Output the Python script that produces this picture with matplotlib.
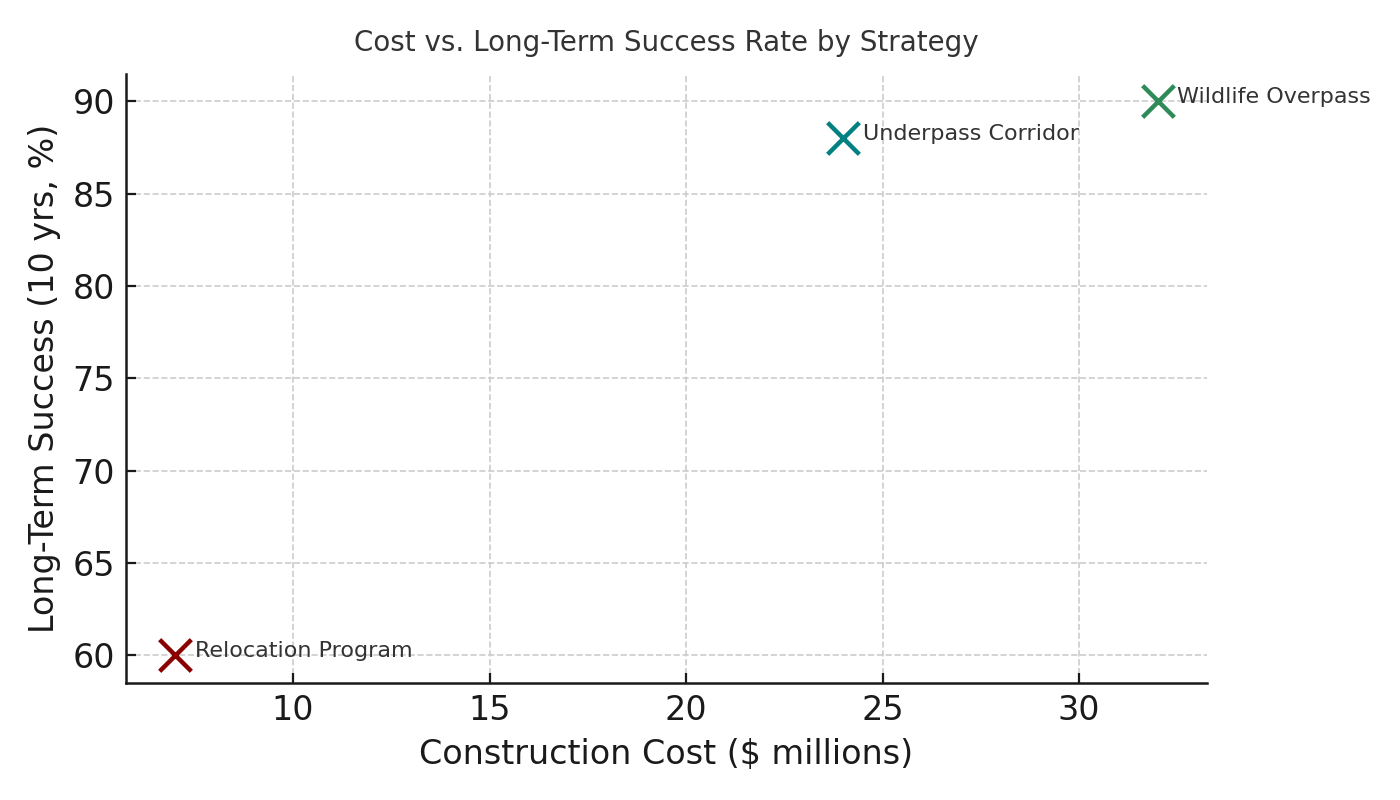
import matplotlib.pyplot as plt

# Data
strategies = ['Relocation Program', 'Underpass Corridor', 'Wildlife Overpass']
cost = [7, 24, 32]          # $ millions
success = [60, 88, 90]      # % after 10 yrs
colors = ['#8B0000', '#008080', '#2E8B57']

fig, ax = plt.subplots(figsize=(7, 4), dpi=200)

for name, x, y, c in zip(strategies, cost, success, colors):
    ax.scatter(x, y, marker='x', s=130, color=c, linewidths=1.6, zorder=3)
    # label just to the right of each point
    ax.annotate(name, (x, y), xytext=(7, -2), textcoords='offset points',
                fontsize=8, color='#333333', ha='left', va='bottom')

ax.set_title('Cost vs. Long-Term Success Rate by Strategy', fontsize=10,
             color='#333333', pad=8)
ax.set_xlabel('Construction Cost ($ millions)', fontsize=12, color='#1a1a1a')
ax.set_ylabel('Long-Term Success (10 yrs, %)', fontsize=12, color='#1a1a1a')

ax.grid(True, linestyle='--', color='#cccccc', linewidth=0.6)
ax.set_axisbelow(True)
ax.spines['top'].set_visible(False)
ax.spines['right'].set_visible(False)
for s in ['left', 'bottom']:
    ax.spines[s].set_linewidth(0.9)
    ax.spines[s].set_color('#1a1a1a')
ax.tick_params(labelsize=12, colors='#1a1a1a', direction='in',
               length=3.5, width=0.8, pad=4)

fig.subplots_adjust(left=0.09, right=0.862, top=0.908, bottom=0.146)
fig.savefig('out.png', dpi=200)
